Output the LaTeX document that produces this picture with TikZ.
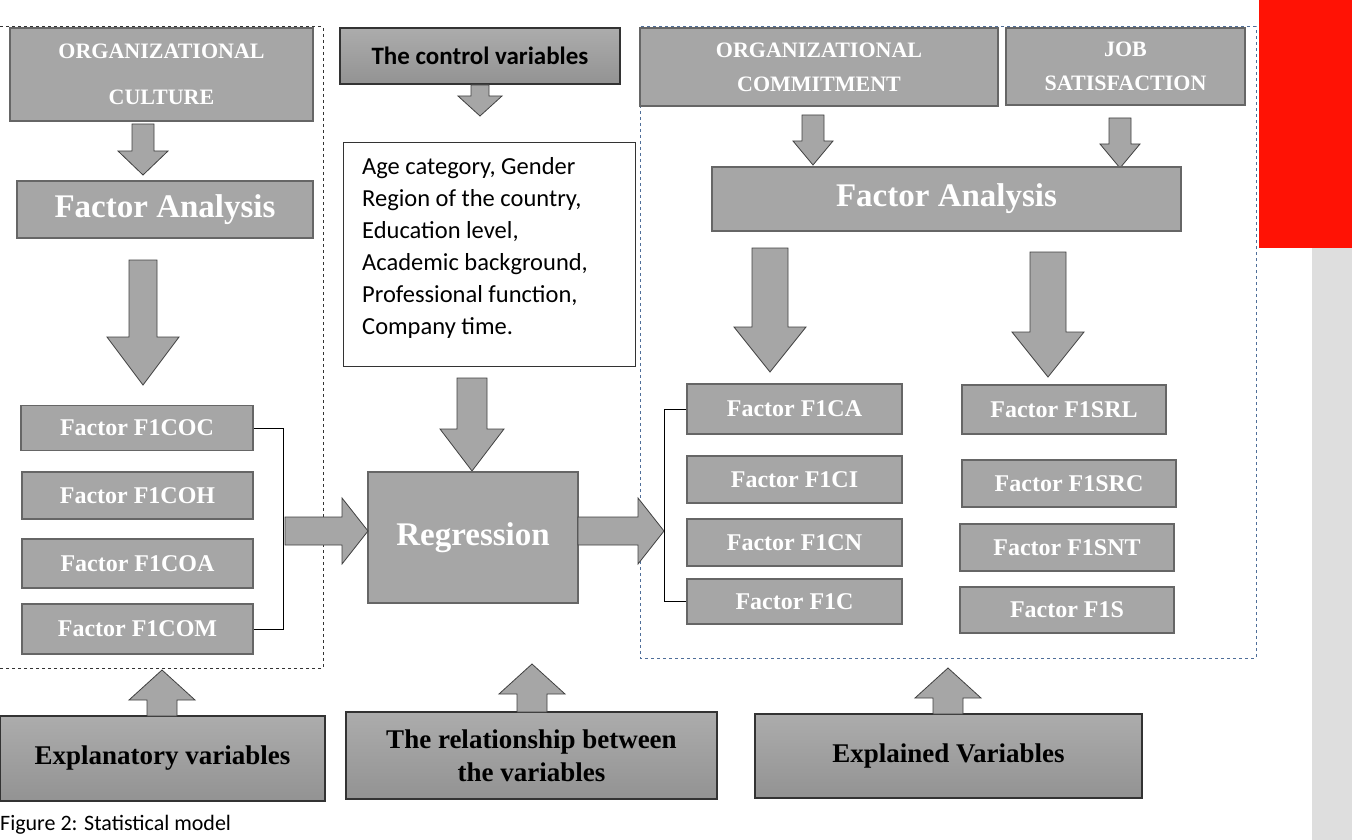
\documentclass[tikz,border=0pt]{standalone}
\usepackage{fontspec}
\setmainfont{Liberation Serif}
\newfontfamily\calib{Carlito}
\usepackage{xcolor}
\usetikzlibrary{shapes,positioning,calc}
\definecolor{boxgray}{HTML}{A6A6A6}
\definecolor{dashblue}{HTML}{4F6E99}
\definecolor{redblk}{HTML}{FF1205}
\definecolor{stripgray}{HTML}{DEDEDE}
% tail point, angle, length, shaft half width, head half width, head length
\newcommand\blockarrow[6]{%
  \filldraw[draw=black!75,line width=0.8pt,fill=gray!70,shift={(#1)},rotate=#2]
    (0,-#4) -- (#3-#6,-#4) -- (#3-#6,-#5) -- (#3,0) -- (#3-#6,#5) -- (#3-#6,#4) -- (0,#4) -- cycle;}

\begin{document}
\begin{tikzpicture}[x=1pt,y=-1pt,
        gbox/.style={draw=gray!80!black,line width=1.2pt,fill=boxgray,text=white,
          font=\bfseries\fontsize{24}{34}\selectfont,align=center,inner sep=0pt},
        dbox/.style={draw=black!80,line width=1.2pt,top color=gray!65,bottom color=gray!85,
          font=\bfseries\fontsize{27}{33}\selectfont,align=center,inner sep=0pt},
        big/.style={font=\bfseries\fontsize{33}{36}\selectfont}]
        \useasboundingbox (0,0) rectangle (1352,840);
        \fill[stripgray] (1312,0) rectangle (1352,840);
        \fill[redblk] (1259,0) rectangle (1352,248);
        % frames
        \draw[black!80,dashed,line width=1pt] (0,27) -- (323,27) -- (323,668) -- (0,668);
        \draw[dashblue,dashed,line width=1pt] (640,27) rectangle (1256,658);

        % left column
        \node[gbox,minimum width=303,minimum height=93,font=\bfseries\fontsize{22}{46}\selectfont] (oc) at (161.5,74.5) {ORGANIZATIONAL\\CULTURE};
        \node[gbox,big,minimum width=296,minimum height=57] (fal) at (165,209.5) {Factor Analysis};
        \node[gbox,minimum width=232,minimum height=45] (coc) at (137,428) {Factor F1COC};
        \node[gbox,minimum width=231,minimum height=47] (coh) at (137.5,495.5) {Factor F1COH};
        \node[gbox,minimum width=231,minimum height=49] (coa) at (137.5,563.5) {Factor F1COA};
        \node[gbox,minimum width=231,minimum height=50] (com) at (137.5,629) {Factor F1COM};
        \blockarrow{143,124}{-90}{51}{11}{25}{24}
        \blockarrow{143,260}{-90}{125}{14}{36}{48}
        \draw[line width=0.8pt] (coc.east) -- ++(30,0) coordinate (bl1) -- (bl1|-com.east) -- (com.east);

        % middle column
        \node[dbox,minimum width=280,minimum height=56,font=\calib\bfseries\fontsize{25}{28}\selectfont] (ctrl) at (480,56) {The control variables};
        \blockarrow{480,85}{-90}{31}{9}{22}{20}
        \node[draw=black!80,line width=1pt,minimum width=292,minimum height=223,inner sep=0pt] (cv) at (489,254.5) {};
        \node[anchor=north west,align=left,inner sep=0pt,font=\calib\fontsize{24.5}{32}\selectfont] (cvt) at (362,157) {Age category, Gender\\Region of the country,\\Education level,\\Academic background,\\Professional function,\\Company time.};
        \blockarrow{472,378}{-90}{93}{15}{32}{42}
        \node[gbox,big,minimum width=210,minimum height=131] (reg) at (473,537.5) {Regression};
        \blockarrow{285,531}{0}{83}{14}{33}{26}
        \blockarrow{578,531}{0}{86}{14}{33}{26}

        % right column
        \node[gbox,minimum width=358,minimum height=78,font=\bfseries\fontsize{22}{34}\selectfont] (ocm) at (819,67) {ORGANIZATIONAL\\COMMITMENT};
        \node[gbox,minimum width=239,minimum height=77,font=\bfseries\fontsize{22}{34}\selectfont] (js) at (1125.5,66.5) {JOB\\SATISFACTION};
        \blockarrow{813,115}{-90}{50}{11}{20}{24}
        \blockarrow{1120,118}{-90}{50}{11}{20}{24}
        \node[gbox,big,minimum width=469,minimum height=64] (far) at (946.5,199) {Factor Analysis};
        \blockarrow{770,248}{-90}{124}{18}{36}{45}
        \blockarrow{1048,252}{-90}{125}{18}{36}{45}
        \node[gbox,minimum width=215,minimum height=50] (ca) at (794.5,409) {Factor F1CA};
        \node[gbox,minimum width=215,minimum height=47] (ci) at (794.5,479.5) {Factor F1CI};
        \node[gbox,minimum width=215,minimum height=47] (cn) at (794.5,542.5) {Factor F1CN};
        \node[gbox,minimum width=215,minimum height=45] (c) at (794.5,601.5) {Factor F1C};
        \node[gbox,minimum width=204,minimum height=49] (srl) at (1064,409.5) {Factor F1SRL};
        \node[gbox,minimum width=214,minimum height=47] (src) at (1069,483.5) {Factor F1SRC};
        \node[gbox,minimum width=214,minimum height=47] (snt) at (1067,547.5) {Factor F1SNT};
        \node[gbox,minimum width=214,minimum height=46] (s) at (1067,610) {Factor F1S};
        \draw[line width=0.8pt] (ca.west) -- ++(-22,0) coordinate (bl2) -- (bl2|-c.west) -- (c.west);

        % bottom row
        \node[dbox,minimum width=325,minimum height=85] (expl) at (162.5,758.5) {Explanatory variables};
        \node[dbox,minimum width=371,minimum height=87] (rel) at (531.5,755.5) {The relationship between\\the variables};
        \node[dbox,minimum width=387,minimum height=84] (expd) at (948.5,756) {Explained Variables};
        \blockarrow{162,716}{90}{46}{15}{33}{30}
        \blockarrow{532,712}{90}{48}{15}{33}{30}
        \blockarrow{948,714}{90}{46}{15}{33}{30}

        \node[anchor=north west,inner sep=0pt,font=\calib\fontsize{22}{24}\selectfont] (cap) at (0,815) {Figure 2: Statistical model};
\end{tikzpicture}
\end{document}
